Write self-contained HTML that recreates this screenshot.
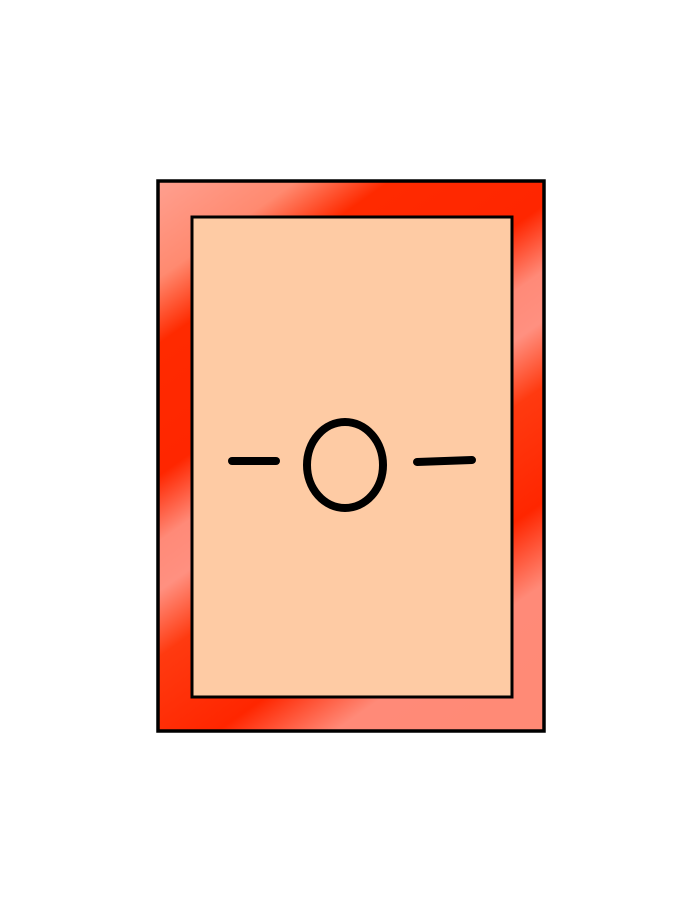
<!DOCTYPE html>
<html><head><meta charset="utf-8"><style>html,body{margin:0;padding:0;background:#fff;width:690px;height:900px;overflow:hidden}</style></head>
<body>
<svg width="690" height="900" viewBox="0 0 690 900">
<defs>
<linearGradient id="g" gradientUnits="userSpaceOnUse" x1="157" y1="180" x2="545" y2="732">
<stop offset="0" stop-color="#ffa090"/>
<stop offset="0.12" stop-color="#ff8a70"/>
<stop offset="0.2" stop-color="#ff2a00"/>
<stop offset="0.36" stop-color="#ff2600"/>
<stop offset="0.44" stop-color="#ff8a78"/>
<stop offset="0.5" stop-color="#ff9080"/>
<stop offset="0.58" stop-color="#ff3a10"/>
<stop offset="0.72" stop-color="#ff2600"/>
<stop offset="0.82" stop-color="#ff8a78"/>
<stop offset="1" stop-color="#ff8a75"/>
</linearGradient>
</defs>
<rect x="158" y="181" width="386" height="550" fill="url(#g)" stroke="#000" stroke-width="3.5"/>
<rect x="192" y="217" width="320" height="480" fill="#fecba4" stroke="#000" stroke-width="3"/>
<line x1="232" y1="461" x2="276" y2="461" stroke="#000" stroke-width="8" stroke-linecap="round"/>
<ellipse cx="345" cy="465" rx="38" ry="43" fill="none" stroke="#000" stroke-width="8"/>
<line x1="417" y1="462" x2="472" y2="460" stroke="#000" stroke-width="8" stroke-linecap="round"/>
</svg>
</body></html>
